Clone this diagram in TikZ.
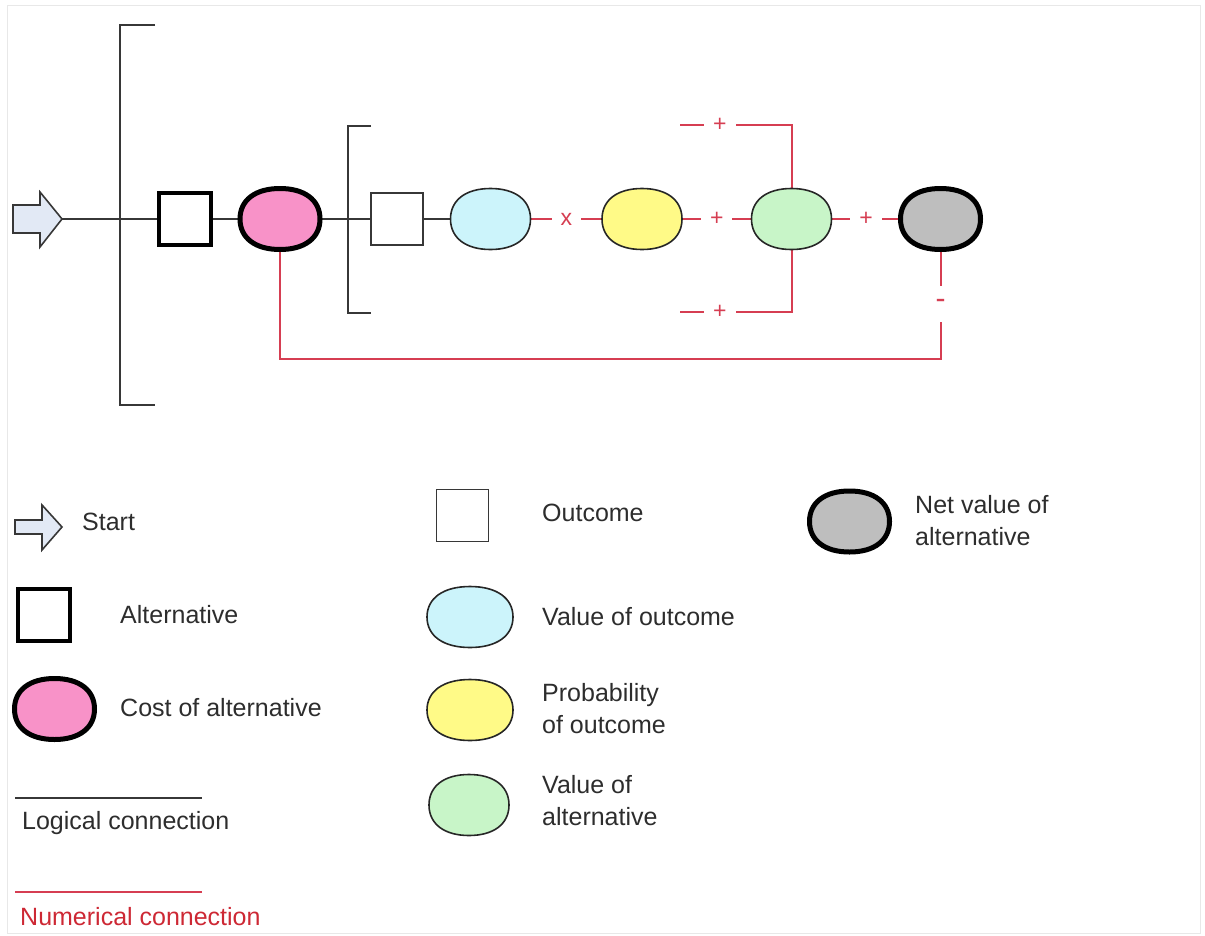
\documentclass[tikz,border=0pt]{standalone}
\usepackage{fontspec}
\usetikzlibrary{calc}
\setmainfont{Liberation Sans}
\definecolor{logicgray}{RGB}{55,55,55}
\definecolor{numred}{RGB}{214,62,82}
\definecolor{numtext}{RGB}{205,40,52}
\definecolor{textgray}{RGB}{45,45,45}
\definecolor{startfill}{RGB}{226,233,245}
\definecolor{costfill}{RGB}{248,146,200}
\definecolor{vofill}{RGB}{204,244,251}
\definecolor{probfill}{RGB}{255,250,135}
\definecolor{valtfill}{RGB}{200,245,200}
\definecolor{netfill}{RGB}{190,190,190}
% squarish oval outline drawn inside the box of a named node
\newcommand\ovalk{0.62}
\newcommand\ovalshape[2]{%
  \draw[#2] (#1.east)
    .. controls ($(#1.east)!\ovalk!(#1.north east)$) and ($(#1.north)!\ovalk!(#1.north east)$) .. (#1.north)
    .. controls ($(#1.north)!\ovalk!(#1.north west)$) and ($(#1.west)!\ovalk!(#1.north west)$) .. (#1.west)
    .. controls ($(#1.west)!\ovalk!(#1.south west)$) and ($(#1.south)!\ovalk!(#1.south west)$) .. (#1.south)
    .. controls ($(#1.south)!\ovalk!(#1.south east)$) and ($(#1.east)!\ovalk!(#1.south east)$) .. (#1.east) -- cycle;}
\begin{document}
\begin{tikzpicture}[x=1pt,y=-1pt,
  logic/.style={draw=logicgray,line width=2pt},
  numeric/.style={draw=numred,line width=2pt},
  startshape/.style={draw=logicgray,line width=1.6pt,fill=startfill,line join=miter},
  altbox/.style={draw=black,line width=4.5pt,fill=white,minimum size=52pt,inner sep=0pt},
  outbox/.style={draw=logicgray,line width=1.8pt,fill=white,minimum size=52pt,inner sep=0pt},
  ovalbox/.style={rectangle,minimum width=80pt,minimum height=61pt,inner sep=0pt,outer sep=0pt},
  thinrim/.style={draw=black!85,line width=1.6pt},
  thickrim/.style={draw=black,line width=5pt},
  sign/.style={fill=white,text=numred,inner xsep=9pt,inner ysep=2pt,font=\fontsize{23}{24}\selectfont},
  lbl/.style={anchor=west,inner sep=0pt,text=textgray,align=left,font=\fontsize{25}{32}\selectfont},
]
\useasboundingbox (0,0) rectangle (1205,935);
% faint outer frame
\draw[black!9,line width=1pt] (7,5) rectangle (1200,933);

% ---------- main diagram ----------
% start arrow
\draw[startshape] (13,205) -- (40,205) -- (40,192) -- (62,219) -- (40,247) -- (40,233) -- (13,233) -- cycle;
\coordinate (starttip) at (62,219);

% brackets
\coordinate (bigtop) at (155,25);
\coordinate (bigbot) at (155,405);
\draw[logic] (bigtop) -- (120,25) -- (120,405) -- (bigbot);
\coordinate (smalltop) at (371,126);
\coordinate (smallbot) at (371,313);
\draw[logic] (smalltop) -- (348,126) -- (348,313) -- (smallbot);

% nodes
\node[altbox] (alt) at (185,219) {};
\node[ovalbox] (cost) at (280,219) {};
\node[outbox] (out) at (397,219) {};
\node[ovalbox] (vo) at (490.5,219) {};
\node[ovalbox] (prob) at (642,219) {};
\node[ovalbox] (valt) at (791.5,219) {};
\node[ovalbox] (net) at (940.5,219) {};

% logical connections
\draw[logic] (starttip) -- (alt.west);
\draw[logic] (alt.east) -- (cost.west);
\draw[logic] (cost.east) -- (out.west);
\draw[logic] (out.east) -- (vo.west);

% numerical connections
\draw[numeric] (vo.east) -- node[sign]{x} (prob.west);
\draw[numeric] (prob.east) -- node[sign]{+} (valt.west);
\draw[numeric] (valt.east) -- node[sign]{+} (net.west);
\coordinate (topstub) at (680,125);
\coordinate (topcorner) at (valt.north |- topstub);
\coordinate (botstub) at (680,312);
\coordinate (botcorner) at (valt.south |- botstub);
\draw[numeric] (topstub) -- node[sign,pos=0.357]{+} (topcorner) -- (valt.north);
\draw[numeric] (botstub) -- node[sign,pos=0.357]{+} (botcorner) -- (valt.south);
\coordinate (netcorner) at (net.south |- 0,359);
\draw[numeric] (net.south) -- node[sign,inner ysep=0pt,minimum height=36pt,font=\fontsize{30}{30}\selectfont]{-} (netcorner) -| (cost.south);

% oval outlines on top of the connector ends
\ovalshape{cost}{thickrim,fill=costfill}
\ovalshape{vo}{thinrim,fill=vofill}
\ovalshape{prob}{thinrim,fill=probfill}
\ovalshape{valt}{thinrim,fill=valtfill}
\ovalshape{net}{thickrim,fill=netfill}

% ---------- legend ----------
\draw[startshape] (15,520) -- (42,520) -- (42,505) -- (62,527) -- (42,550) -- (42,534) -- (15,534) -- cycle;
\node[lbl] (tstart) at (82,522) {Start};

\node[altbox] (lalt) at (44,615) {};
\node[lbl] (talt) at (120,615) {Alternative};

\node[ovalbox] (lcost) at (54.5,709) {};
\ovalshape{lcost}{thickrim,fill=costfill}
\node[lbl] (tcost) at (120,708) {Cost of alternative};

\node[outbox] (lout) at (462.5,515.5) {};
\node[lbl] (tout) at (542,513) {Outcome};

\node[ovalbox,minimum width=86pt] (lvo) at (470,617) {};
\ovalshape{lvo}{thinrim,fill=vofill}
\node[lbl] (tvo) at (542,617) {Value of outcome};

\node[ovalbox,minimum width=86pt] (lprob) at (470,710) {};
\ovalshape{lprob}{thinrim,fill=probfill}
\node[lbl] (tprob) at (542,709) {Probability\\of outcome};

\node[ovalbox] (lvalt) at (469,805) {};
\ovalshape{lvalt}{thinrim,fill=valtfill}
\node[lbl] (tvalt) at (542,801) {Value of\\alternative};

\node[ovalbox] (lnet) at (849.5,521.5) {};
\ovalshape{lnet}{thickrim,fill=netfill}
\node[lbl] (tnet) at (915,521) {Net value of\\alternative};

\coordinate (logA) at (15,798);
\coordinate (logB) at (202,798);
\draw[logic] (logA) -- (logB);
\node[lbl] (tlog) at (22,823) {Logical connection};

\coordinate (numA) at (15,892);
\coordinate (numB) at (202,892);
\draw[numeric] (numA) -- (numB);
\node[lbl,text=numtext] (tnum) at (20,917) {Numerical connection};
\end{tikzpicture}
\end{document}
